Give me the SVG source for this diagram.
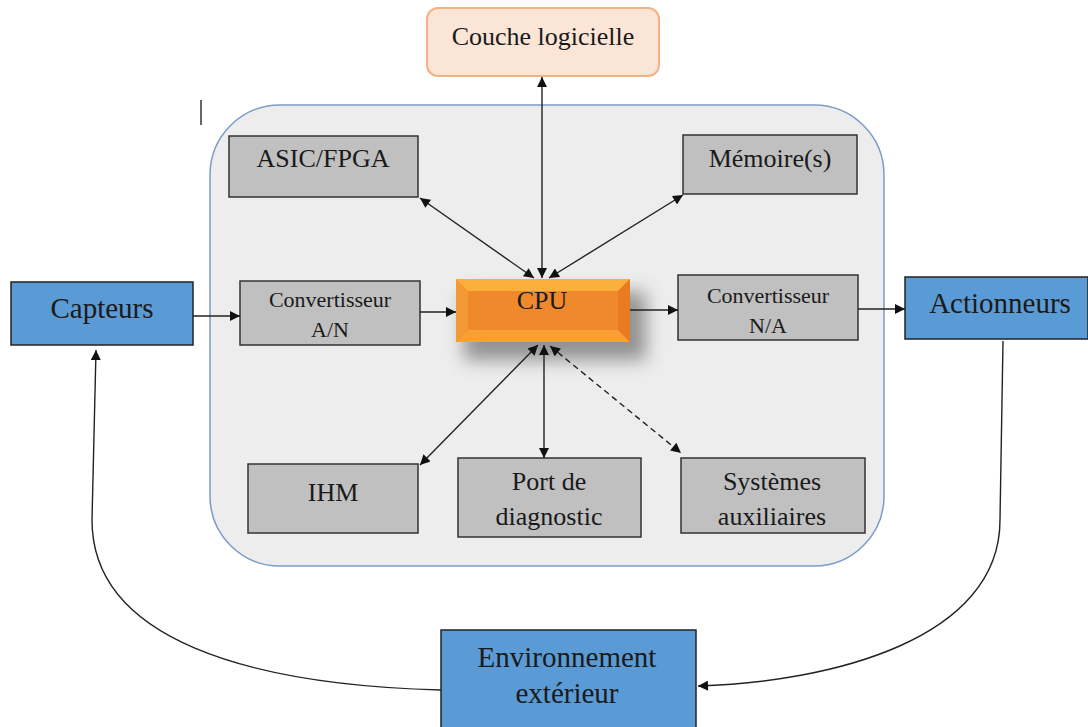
<svg xmlns="http://www.w3.org/2000/svg" width="1088" height="727" viewBox="0 0 1088 727" font-family="'Liberation Serif', Tinos, 'Times New Roman', 'DejaVu Serif', serif">
<style>
text{fill:#1a1a1a;text-anchor:middle}
.gray{fill:#c0c0c0;stroke:#333;stroke-width:1.5}
.blue{fill:#5b9bd5;stroke:#222;stroke-width:1.5}
.c{fill:none;stroke:#222;stroke-width:1.4}
.t30{font-size:29px}
.t26{font-size:26px}
.t22{font-size:22px}
</style>
<defs>
<marker id="ah" viewBox="0 0 10 10" refX="10" refY="5" markerWidth="12" markerHeight="10" markerUnits="userSpaceOnUse" orient="auto-start-reverse">
<path d="M0,0 L10,5 L0,10 Z" fill="#111"/>
</marker>
<filter id="sh" x="-30%" y="-30%" width="170%" height="190%">
<feGaussianBlur stdDeviation="9"/>
</filter>
</defs>

<rect width="1088" height="727" fill="#fff"/>
<line x1="201" y1="100" x2="201" y2="125" stroke="#333" stroke-width="1.5"/>

<g id="container">
<rect x="210" y="105" width="674" height="461" rx="70" fill="#ededed" stroke="#7a9cc6" stroke-width="1.5"/>
</g>

<g id="couche">
<rect x="427" y="8" width="232" height="68" rx="11" fill="#fbe5d6" stroke="#f4b183" stroke-width="2"/>
<text x="543" y="45" class="t26">Couche logicielle</text>
</g>

<g id="asic">
<rect x="229" y="136" width="189" height="61" class="gray"/>
<text x="323" y="167" class="t26">ASIC/FPGA</text>
</g>

<g id="memoire">
<rect x="683" y="135" width="174" height="59" class="gray"/>
<text x="770" y="167" class="t26">Mémoire(s)</text>
</g>

<g id="capteurs">
<rect x="11" y="282" width="182" height="63" class="blue"/>
<text x="102" y="318" class="t30">Capteurs</text>
</g>

<g id="can">
<rect x="240" y="281" width="180" height="64" class="gray"/>
<text x="330" y="307" class="t22">Convertisseur</text>
<text x="330" y="337" class="t22">A/N</text>
</g>

<g id="cpu">
<rect x="464" y="292" width="182" height="68" fill="#555" opacity="0.6" filter="url(#sh)"/>
<rect x="456" y="279" width="174" height="63" fill="#f0882c"/>
<polygon points="456,279 630,279 618,291 468,291" fill="#fbb03c"/>
<polygon points="456,342 630,342 618,330 468,330" fill="#f8a032"/>
<polygon points="456,279 468,291 468,330 456,342" fill="#f49a35"/>
<polygon points="630,279 618,291 618,330 630,342" fill="#e97b22"/>
<text x="542" y="309" class="t26">CPU</text>
</g>

<g id="cna">
<rect x="678" y="275" width="180" height="65" class="gray"/>
<text x="768" y="303" class="t22">Convertisseur</text>
<text x="768" y="333" class="t22">N/A</text>
</g>

<g id="actionneurs">
<rect x="905" y="277" width="183" height="62" class="blue"/>
<text x="1000" y="313" class="t30">Actionneurs</text>
</g>

<g id="ihm">
<rect x="248" y="464" width="170" height="69" class="gray"/>
<text x="333" y="501" class="t26">IHM</text>
</g>

<g id="port">
<rect x="458" y="458" width="183" height="79" class="gray"/>
<text x="549" y="490" class="t26">Port de</text>
<text x="549" y="525" class="t26">diagnostic</text>
</g>

<g id="systemes">
<rect x="681" y="458" width="184" height="75" class="gray"/>
<text x="772" y="490" class="t26">Systèmes</text>
<text x="772" y="525" class="t26">auxiliaires</text>
</g>

<g id="environnement">
<rect x="441" y="630" width="255" height="100" class="blue"/>
<text x="567" y="667" class="t30">Environnement</text>
<text x="567" y="703" class="t30">extérieur</text>
</g>

<g id="connectors">
<line x1="542" y1="77" x2="542" y2="278" class="c" marker-start="url(#ah)" marker-end="url(#ah)"/>
<line x1="420" y1="198" x2="534" y2="278" class="c" marker-start="url(#ah)" marker-end="url(#ah)"/>
<line x1="683" y1="195" x2="549" y2="278" class="c" marker-start="url(#ah)" marker-end="url(#ah)"/>
<line x1="193" y1="316" x2="240" y2="316" class="c" marker-end="url(#ah)"/>
<line x1="420" y1="312" x2="456" y2="312" class="c" marker-end="url(#ah)"/>
<line x1="630" y1="310" x2="678" y2="310" class="c" marker-end="url(#ah)"/>
<line x1="858" y1="309" x2="905" y2="309" class="c" marker-end="url(#ah)"/>
<line x1="538" y1="345" x2="420" y2="465" class="c" marker-start="url(#ah)" marker-end="url(#ah)"/>
<line x1="544" y1="345" x2="544" y2="458" class="c" marker-start="url(#ah)" marker-end="url(#ah)"/>
<line x1="550" y1="346" x2="681" y2="453" class="c" stroke-dasharray="6,4" marker-start="url(#ah)" marker-end="url(#ah)"/>
<path d="M1003,341 L1000,520 C1000,640 830,682 698,686" class="c" marker-end="url(#ah)"/>
<path d="M441,690 C250,685 92,640 92,520 L96,350" class="c" marker-end="url(#ah)"/>
</g>
</svg>
